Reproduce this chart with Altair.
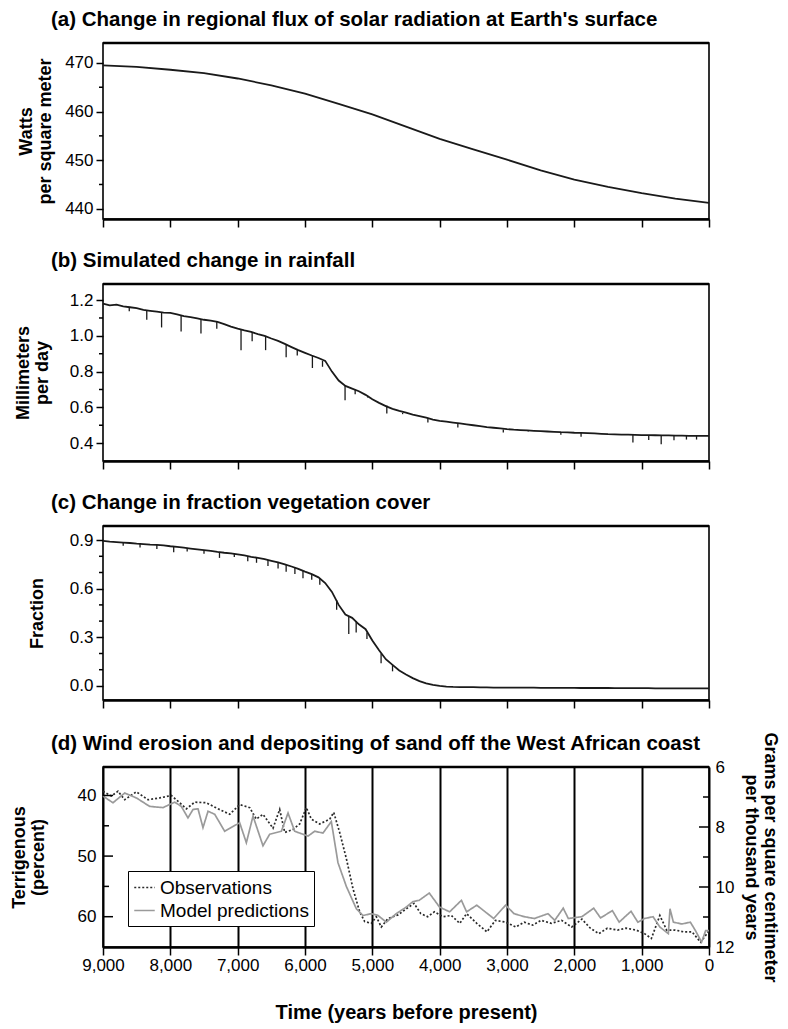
import altair as alt
import pandas as pd

FONT = "Liberation Sans"
W = 606

# ---------------- data ----------------
X_TICKS = [9000, 8000, 7000, 6000, 5000, 4000, 3000, 2000, 1000, 0]

# (a) solar flux, W/m^2
SOLAR_YEARS = [9000, 8500, 8000, 7500, 7000, 6500, 6000, 5500, 5000, 4500,
               4000, 3500, 3000, 2500, 2000, 1500, 1000, 500, 0]
SOLAR_WM2 = [469.5, 469.2, 468.6, 467.9, 466.8, 465.4, 463.7, 461.6, 459.4, 456.9,
             454.4, 452.2, 450.1, 447.9, 446.0, 444.5, 443.2, 442.1, 441.2]

# (b) rainfall, mm/day, every 100 years from 9000 to 0
YEARS_100 = [9000 - 100 * i for i in range(91)]
RAIN = [1.18, 1.17, 1.175, 1.165, 1.16, 1.155, 1.145, 1.14, 1.135, 1.13,
        1.128, 1.12, 1.11, 1.105, 1.098, 1.09, 1.085, 1.078, 1.066, 1.052,
        1.04, 1.03, 1.022, 1.01, 1.0, 0.985, 0.972, 0.955, 0.937, 0.92,
        0.905, 0.89, 0.876, 0.86, 0.80, 0.75, 0.72, 0.705, 0.69, 0.67,
        0.645, 0.625, 0.607, 0.592, 0.58, 0.57, 0.56, 0.551, 0.542, 0.532,
        0.525, 0.52, 0.515, 0.51, 0.505, 0.50, 0.495, 0.49, 0.486, 0.482,
        0.478, 0.475, 0.473, 0.471, 0.469, 0.467, 0.465, 0.463, 0.461, 0.46,
        0.458, 0.457, 0.456, 0.454, 0.452, 0.45, 0.449, 0.448, 0.447, 0.446,
        0.445, 0.445, 0.444, 0.443, 0.443, 0.442, 0.442, 0.441, 0.441, 0.44,
        0.44]
RAIN_SPIKE_YEARS = [8610, 8350, 8130, 7840, 7545, 7310, 6950, 6785, 6585, 6280,
                    6115, 5890, 5740, 5405, 5255, 5070, 4785, 4550, 4175, 3730,
                    3055, 2685, 2200, 1900, 1130, 895, 710, 520, 335, 185]
RAIN_SPIKE_TOP = [1.16, 1.14, 1.13, 1.115, 1.09, 1.08, 1.035, 1.02, 1.0, 0.95,
                  0.925, 0.89, 0.86, 0.72, 0.70, 0.665, 0.61, 0.57, 0.54, 0.51,
                  0.476, 0.47, 0.462, 0.456, 0.446, 0.444, 0.443, 0.442, 0.441, 0.44]
RAIN_SPIKE_LOW = [1.137, 1.09, 1.047, 1.025, 1.013, 1.04, 0.92, 0.97, 0.92, 0.88,
                  0.89, 0.82, 0.827, 0.64, 0.674, 0.655, 0.566, 0.562, 0.515, 0.487,
                  0.46, 0.465, 0.447, 0.435, 0.403, 0.418, 0.394, 0.416, 0.42, 0.42]

# (c) vegetation fraction, every 100 years from 9000 to 0
VEG = [0.895, 0.89, 0.888, 0.885, 0.882, 0.878, 0.875, 0.872, 0.87, 0.867,
       0.862, 0.858, 0.853, 0.848, 0.843, 0.838, 0.833, 0.827, 0.822, 0.818,
       0.812, 0.805, 0.797, 0.79, 0.782, 0.772, 0.762, 0.75, 0.737, 0.722,
       0.705, 0.69, 0.67, 0.635, 0.58, 0.50, 0.44, 0.42, 0.38, 0.35,
       0.28, 0.22, 0.165, 0.13, 0.095, 0.07, 0.048, 0.03, 0.016, 0.006,
       0.0, -0.004, -0.006, -0.007, -0.008, -0.008, -0.009, -0.009, -0.01, -0.01,
       -0.01, -0.01, -0.011, -0.011, -0.011, -0.012, -0.012, -0.012, -0.012, -0.012,
       -0.012, -0.013, -0.013, -0.013, -0.013, -0.013, -0.014, -0.014, -0.014, -0.014,
       -0.014, -0.014, -0.015, -0.015, -0.015, -0.015, -0.015, -0.015, -0.015, -0.015,
       -0.015]
VEG_SPIKE_YEARS = [8700, 8450, 8200, 7950, 7750, 7500, 7270, 7050, 6850, 6720,
                   6550, 6400, 6280, 6150, 6030, 5900, 5780, 5530, 5350, 5240,
                   5080, 4870, 4700]
VEG_SPIKE_TOP = [0.885, 0.877, 0.87, 0.86, 0.85, 0.838, 0.826, 0.815, 0.80, 0.792,
                 0.777, 0.762, 0.748, 0.73, 0.71, 0.69, 0.665, 0.53, 0.43, 0.40,
                 0.33, 0.20, 0.13]
VEG_SPIKE_LOW = [0.865, 0.855, 0.845, 0.825, 0.83, 0.815, 0.79, 0.795, 0.77, 0.76,
                 0.74, 0.725, 0.705, 0.69, 0.665, 0.655, 0.625, 0.47, 0.32, 0.33,
                 0.29, 0.14, 0.09]

# (d) terrigenous percent
SERIES = ["Observations", "Model predictions"]
OBS_YEARS = [9000, 8877, 8777, 8678, 8505, 8332, 8158, 7985, 7861, 7762,
             7638, 7466, 7292, 7118, 6970, 6821, 6723, 6624, 6475, 6376,
             6301, 6178, 6079, 5980, 5906, 5782, 5633, 5573, 5485, 5386,
             5287, 5188, 5114, 5015, 4941, 4867, 4767, 4619, 4495, 4381,
             4280, 4179, 4078, 3953, 3827, 3701, 3600, 3449, 3298, 3172,
             3021, 2870, 2744, 2618, 2492, 2341, 2190, 2039, 1888, 1762,
             1636, 1510, 1359, 1233, 1082, 957, 856, 730, 629, 503,
             378, 252, 126, 50, 0]
OBS_PCT = [39.3, 40.1, 39.3, 40.7, 39.4, 40.7, 40.4, 40.0, 41.2, 42.2,
           41.1, 41.2, 42.2, 43.1, 41.5, 42.0, 43.9, 43.1, 45.4, 42.3,
           46.1, 45.6, 44.7, 42.0, 43.9, 44.7, 43.9, 42.8, 46.1, 50.4,
           55.4, 59.2, 60.8, 61.1, 60.0, 61.7, 60.3, 59.7, 58.7, 57.8,
           59.5, 60.0, 59.2, 60.0, 59.8, 61.1, 59.5, 61.1, 62.5, 60.6,
           60.9, 61.7, 60.9, 61.4, 60.6, 61.1, 60.6, 61.7, 60.4, 61.9,
           62.8, 61.9, 62.2, 61.9, 62.2, 62.8, 63.6, 59.8, 62.2, 62.2,
           62.5, 62.5, 64.2, 63.1, 62.3]
MOD_YEARS = [9000, 8852, 8678, 8505, 8307, 8109, 7936, 7837, 7738, 7663,
             7589, 7515, 7440, 7341, 7193, 6970, 6871, 6772, 6624, 6525,
             6351, 6252, 6153, 5955, 5856, 5733, 5609, 5510, 5386, 5237,
             5139, 5015, 4916, 4792, 4644, 4495, 4396, 4305, 4154, 4003,
             3852, 3677, 3600, 3449, 3198, 3021, 2895, 2744, 2593, 2392,
             2291, 2165, 2089, 1888, 1712, 1611, 1435, 1334, 1158, 1057,
             957, 831, 730, 604, 579, 529, 403, 277, 201, 110, 50, 0]
MOD_PCT = [40.1, 41.2, 39.6, 40.4, 41.8, 42.0, 41.1, 41.8, 43.7, 42.3,
           42.2, 45.3, 42.6, 43.1, 45.9, 44.5, 47.8, 43.4, 48.3, 46.4,
           45.9, 42.9, 45.9, 46.7, 45.9, 46.2, 44.3, 51.1, 55.0, 58.7,
           59.8, 59.5, 59.8, 60.9, 59.5, 58.4, 57.5, 57.3, 56.1, 58.4,
           59.2, 57.3, 59.2, 58.1, 60.3, 58.1, 59.5, 60.0, 60.3, 59.5,
           60.6, 58.6, 60.3, 60.0, 58.6, 60.2, 59.0, 60.9, 59.1, 60.9,
           60.3, 60.0, 61.7, 62.8, 58.7, 60.9, 61.2, 60.9, 62.3, 64.2, 62.3, 62.3]

PCT_MAJOR = [40, 50, 60]
PCT_MINOR = [45, 55]
GRAM_MAJOR = [6, 8, 10, 12]
GRAM_MINOR = [7, 9, 11]

TITLES = ["(a) Change in regional flux of solar radiation at Earth's surface",
          "(b) Simulated change in rainfall",
          "(c) Change in fraction vegetation cover",
          "(d) Wind erosion and depositing of sand off the West African coast"]

# ---------------- helpers ----------------
XSCALE = alt.Scale(domain=[0, 9000], reverse=True, nice=False, zero=False)
X_AXIS_PLAIN = alt.Axis(values=X_TICKS, labels=False, ticks=True, tickSize=8,
                        tickWidth=1.5, tickColor="black", domain=True,
                        domainColor="black", domainWidth=2.5, grid=False)


def title_layer(text):
    return alt.Chart(pd.DataFrame({"t": [text]})).mark_text(
        align="left", baseline="middle", font=FONT, fontSize=20.5, fontWeight="bold",
        color="black").encode(text="t:N", x=alt.value(-52), y=alt.value(-23))


def top_border():
    return alt.Chart(pd.DataFrame({"t": [0]})).mark_rule(color="black", strokeWidth=2.5).encode(
        x=alt.value(0), x2=alt.value(W), y=alt.value(0))


def top_panel(title, ytitle, df, ydomain, major, minor, fmt, height, tpad, spikes=None):
    ysc = alt.Scale(domain=ydomain, nice=False, zero=False)
    yax = alt.Axis(values=major, format=fmt, tickSize=7, tickWidth=1.5,
                   tickColor="black", domain=False, grid=False,
                   labelPadding=3, titlePadding=tpad, titleLineHeight=19)
    xenc = alt.X("year:Q", scale=XSCALE, title=None, axis=X_AXIS_PLAIN)
    line = alt.Chart(df).mark_line(color="#1a1a1a", strokeWidth=1.8).encode(
        x=xenc, y=alt.Y("value:Q", scale=ysc, title=ytitle, axis=yax))
    minor_layer = alt.Chart(pd.DataFrame({"value": minor})).mark_rule(
        color="black", strokeWidth=1.5).encode(
        y=alt.Y("value:Q", scale=ysc, title=ytitle, axis=yax),
        x=alt.value(-4), x2=alt.value(0))
    layers = [line, minor_layer]
    if spikes is not None:
        layers.append(alt.Chart(spikes).mark_rule(color="#1a1a1a", strokeWidth=1.3).encode(
            x=xenc, y=alt.Y("value:Q", scale=ysc, title=ytitle, axis=yax), y2="low:Q"))
    layers.append(top_border())
    layers.append(title_layer(title))
    return alt.layer(*layers).properties(width=W, height=height)


# ---------------- panels a-c ----------------
df_a = pd.DataFrame({"year": SOLAR_YEARS, "value": SOLAR_WM2})
panel_a = top_panel(TITLES[0], ["Watts", "per square meter"], df_a, [437.9, 474.1],
                    [440, 450, 460, 470], [445, 455, 465], "d", 176, 10)

df_b = pd.DataFrame({"year": YEARS_100, "value": RAIN})
sp_b = pd.DataFrame({"year": RAIN_SPIKE_YEARS, "value": RAIN_SPIKE_TOP, "low": RAIN_SPIKE_LOW})
panel_b = top_panel(TITLES[1], ["Millimeters", "per day"], df_b,
                    [0.3, 1.29], [0.4, 0.6, 0.8, 1.0, 1.2], [0.5, 0.7, 0.9, 1.1], ".1f", 177,
                    18, spikes=sp_b)

df_c = pd.DataFrame({"year": YEARS_100, "value": VEG})
sp_c = pd.DataFrame({"year": VEG_SPIKE_YEARS, "value": VEG_SPIKE_TOP, "low": VEG_SPIKE_LOW})
panel_c = top_panel(TITLES[2], "Fraction", df_c,
                    [-0.087, 0.987], [0.0, 0.3, 0.6, 0.9], [0.1, 0.2, 0.4, 0.5, 0.7, 0.8],
                    ".1f", 174, 23, spikes=sp_c)

# ---------------- panel d ----------------
df_d = pd.concat([
    pd.DataFrame({"year": OBS_YEARS, "pct": OBS_PCT, "series": SERIES[0]}),
    pd.DataFrame({"year": MOD_YEARS, "pct": MOD_PCT, "series": SERIES[1]}),
])
ysc_d = alt.Scale(domain=[35.3, 65.0], reverse=True, nice=False, zero=False)
gsc = alt.Scale(domain=[6, 12], reverse=True, nice=False, zero=False)

leg = alt.Legend(title=None, orient="none", legendX=25, legendY=104, fillColor="white",
                 strokeColor="black", padding=5, labelFont=FONT, labelFontSize=19,
                 labelColor="black", symbolType="stroke", symbolSize=420,
                 symbolStrokeWidth=1.7, rowPadding=1, labelOffset=4)

x_d = alt.X("year:Q", scale=XSCALE, title="Time (years before present)",
            axis=alt.Axis(values=X_TICKS, format=",d", ticks=True, tickSize=8, tickWidth=1.5,
                          tickColor="black", domain=True, domainColor="black", domainWidth=2.5,
                          grid=True, gridColor="black", gridWidth=2, gridOpacity=1,
                          labelFlush=False, labelOverlap=False,
                          labelPadding=2, titlePadding=29, titleFontSize=20))

ax_pct = alt.Axis(values=PCT_MAJOR, ticks=False, domain=False, grid=False,
                  labelPadding=7, titlePadding=30, titleLineHeight=19)
PCT_TITLE = ["Terrigenous", "(percent)"]

lines_d = alt.Chart(df_d).mark_line(strokeWidth=1.7).encode(
    x=x_d,
    y=alt.Y("pct:Q", scale=ysc_d, title=PCT_TITLE, axis=ax_pct),
    color=alt.Color("series:N", scale=alt.Scale(domain=SERIES, range=["#2a2a2a", "#9a9a9a"]),
                    legend=leg),
    strokeDash=alt.StrokeDash("series:N", scale=alt.Scale(domain=SERIES, range=[[2, 2], [1, 0]]),
                              legend=leg),
)
lmaj = alt.Chart(pd.DataFrame({"pct": PCT_MAJOR})).mark_rule(color="black", strokeWidth=1.5).encode(
    y=alt.Y("pct:Q", scale=ysc_d, title=PCT_TITLE, axis=ax_pct), x=alt.value(0), x2=alt.value(10))
lmin = alt.Chart(pd.DataFrame({"pct": PCT_MINOR})).mark_rule(color="black", strokeWidth=1.5).encode(
    y=alt.Y("pct:Q", scale=ysc_d, title=PCT_TITLE, axis=ax_pct), x=alt.value(0), x2=alt.value(6))

ax_g = alt.Axis(orient="right", values=GRAM_MAJOR, ticks=False, domain=False,
                grid=False, labelPadding=6, titlePadding=8, titleLineHeight=19)
G_TITLE = ["Grams per square centimeter", "per thousand years"]
gmaj = alt.Chart(pd.DataFrame({"g": GRAM_MAJOR})).mark_rule(color="black", strokeWidth=1.5).encode(
    y=alt.Y("g:Q", scale=gsc, title=G_TITLE, axis=ax_g),
    x=alt.value(W - 10), x2=alt.value(W))
gmin = alt.Chart(pd.DataFrame({"g": GRAM_MINOR})).mark_rule(color="black", strokeWidth=1.5).encode(
    y=alt.Y("g:Q", scale=gsc, title=G_TITLE, axis=ax_g),
    x=alt.value(W - 6), x2=alt.value(W))

left_d = alt.layer(lines_d, lmaj, lmin, top_border(), title_layer(TITLES[3]))
right_d = alt.layer(gmaj, gmin)
panel_d = alt.layer(left_d, right_d).resolve_scale(y="independent").properties(
    width=W, height=180)

chart = alt.vconcat(panel_a, panel_b, panel_c, panel_d, spacing=21).resolve_legend(
    color="independent", strokeDash="independent"
).properties(
    padding={"left": 1, "top": 1, "right": 0, "bottom": 0}, background="white"
).configure_view(stroke="black", strokeWidth=1.6).configure_axis(
    labelFont=FONT, labelFontSize=17, labelColor="black",
    titleFont=FONT, titleFontSize=18, titleFontWeight="bold", titleColor="black")

chart.save("out.html", embed_options={"renderer": "svg", "actions": False})
